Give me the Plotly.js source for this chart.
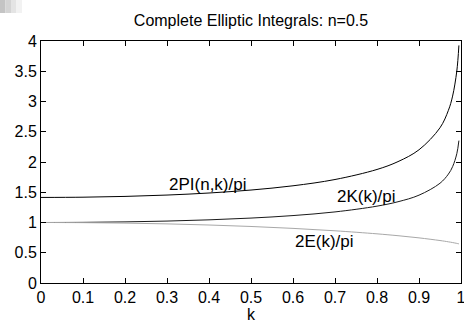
<!DOCTYPE html>
<html>
<head>
<meta charset="utf-8">
<script src="https://cdn.plot.ly/plotly-3.0.1.min.js"></script>
<style>html,body{margin:0;padding:0;background:#fff;}#chart{width:464px;height:323px;}</style>
</head>
<body>
<div id="chart"></div>
<script>
// modulus k
var kVals = [0, 0.1, 0.2, 0.3, 0.4, 0.5, 0.6, 0.7, 0.8, 0.85, 0.9, 0.95, 0.97, 0.98, 0.99, 0.995];
// 2PI(n,k)/pi with n = 0.5
var piVals = [1.4142, 1.4184, 1.4312, 1.4536, 1.4876, 1.5366, 1.6068, 1.7105, 1.8767, 2.0062, 2.2021, 2.5661, 2.8540, 3.0893, 3.5028, 3.9270];
// 2K(k)/pi
var kkVals = [1.0000, 1.0025, 1.0102, 1.0237, 1.0441, 1.0732, 1.1146, 1.1750, 1.2703, 1.3432, 1.4518, 1.6489, 1.8004, 1.9232, 2.1369, 2.3535];
// 2E(k)/pi
var eVals = [1.0000, 0.9975, 0.9899, 0.9771, 0.9587, 0.9342, 0.9028, 0.8630, 0.8125, 0.7818, 0.7459, 0.7020, 0.6806, 0.6685, 0.6547, 0.6468];

var xTickVals = [0, 0.1, 0.2, 0.3, 0.4, 0.5, 0.6, 0.7, 0.8, 0.9, 1];
var xTickText = ['0', '0.1', '0.2', '0.3', '0.4', '0.5', '0.6', '0.7', '0.8', '0.9', '1'];
var yTickVals = [0, 0.5, 1, 1.5, 2, 2.5, 3, 3.5, 4];
var yTickText = ['0', '0.5', '1', '1.5', '2', '2.5', '3', '3.5', '4'];

var labels = ['2PI(n,k)/pi', '2K(k)/pi', '2E(k)/pi'];
var labelX = [0.396, 0.775, 0.674];
var labelY = [1.636, 1.438, 0.689];
var titleText = 'Complete Elliptic Integrals: n=0.5';
var xTitle = 'k';

var FONT = 'Liberation Sans, Arial, Helvetica, sans-serif';

var traces = [
  {x: kVals, y: piVals, mode: 'lines', line: {color: '#000000', width: 1, shape: 'spline'}, hoverinfo: 'skip'},
  {x: kVals, y: kkVals, mode: 'lines', line: {color: '#1a1a1a', width: 1, shape: 'spline'}, hoverinfo: 'skip'},
  {x: kVals, y: eVals, mode: 'lines', line: {color: '#a8a8a8', width: 1, shape: 'spline'}, hoverinfo: 'skip'}
];

var annotations = labels.map(function (t, i) {
  return {x: labelX[i], y: labelY[i], xref: 'x', yref: 'y', text: t, showarrow: false,
          xanchor: 'center', yanchor: 'middle', font: {family: FONT, size: 17, color: '#000'}};
});

var axisCommon = {
  showline: true, linecolor: '#000', linewidth: 1, mirror: 'ticks',
  ticks: 'inside', ticklen: 5, tickwidth: 1, tickcolor: '#000',
  showgrid: false, zeroline: false, tickmode: 'array',
  ticklabeloverflow: 'allow',
  tickfont: {family: FONT, size: 16, color: '#000'}
};

var layout = {
  width: 464, height: 323,
  margin: {l: 41, r: 3, t: 41, b: 40, pad: 0},
  paper_bgcolor: '#fff', plot_bgcolor: '#fff',
  showlegend: false,
  title: {text: titleText, font: {family: FONT, size: 16, color: '#000'},
          x: 0.5, xref: 'paper', y: 0.938, yanchor: 'middle'},
  xaxis: Object.assign({}, axisCommon, {range: [0, 1], tickvals: xTickVals, ticktext: xTickText,
          title: {text: xTitle, font: {family: FONT, size: 16, color: '#000'}, standoff: 2}}),
  yaxis: Object.assign({}, axisCommon, {range: [0, 4], tickvals: yTickVals, ticktext: yTickText}),
  annotations: annotations,
  shapes: [
    {type: 'rect', xref: 'paper', yref: 'paper', x0: -0.0976, x1: -0.0845, y0: 1.1694, y1: 1.1157, fillcolor: '#c4c4c4', line: {width: 0}, layer: 'below'},
    {type: 'rect', xref: 'paper', yref: 'paper', x0: -0.0845, x1: -0.0714, y0: 1.1694, y1: 1.1157, fillcolor: '#d4d4d4', line: {width: 0}, layer: 'below'},
    {type: 'rect', xref: 'paper', yref: 'paper', x0: -0.0714, x1: -0.0583, y0: 1.1694, y1: 1.1157, fillcolor: '#e4e4e4', line: {width: 0}, layer: 'below'},
    {type: 'rect', xref: 'paper', yref: 'paper', x0: -0.0583, x1: -0.0452, y0: 1.1694, y1: 1.1157, fillcolor: '#f2f2f2', line: {width: 0}, layer: 'below'}
  ]
};

Plotly.newPlot('chart', traces, layout, {staticPlot: true, displayModeBar: false});
</script>
</body>
</html>
